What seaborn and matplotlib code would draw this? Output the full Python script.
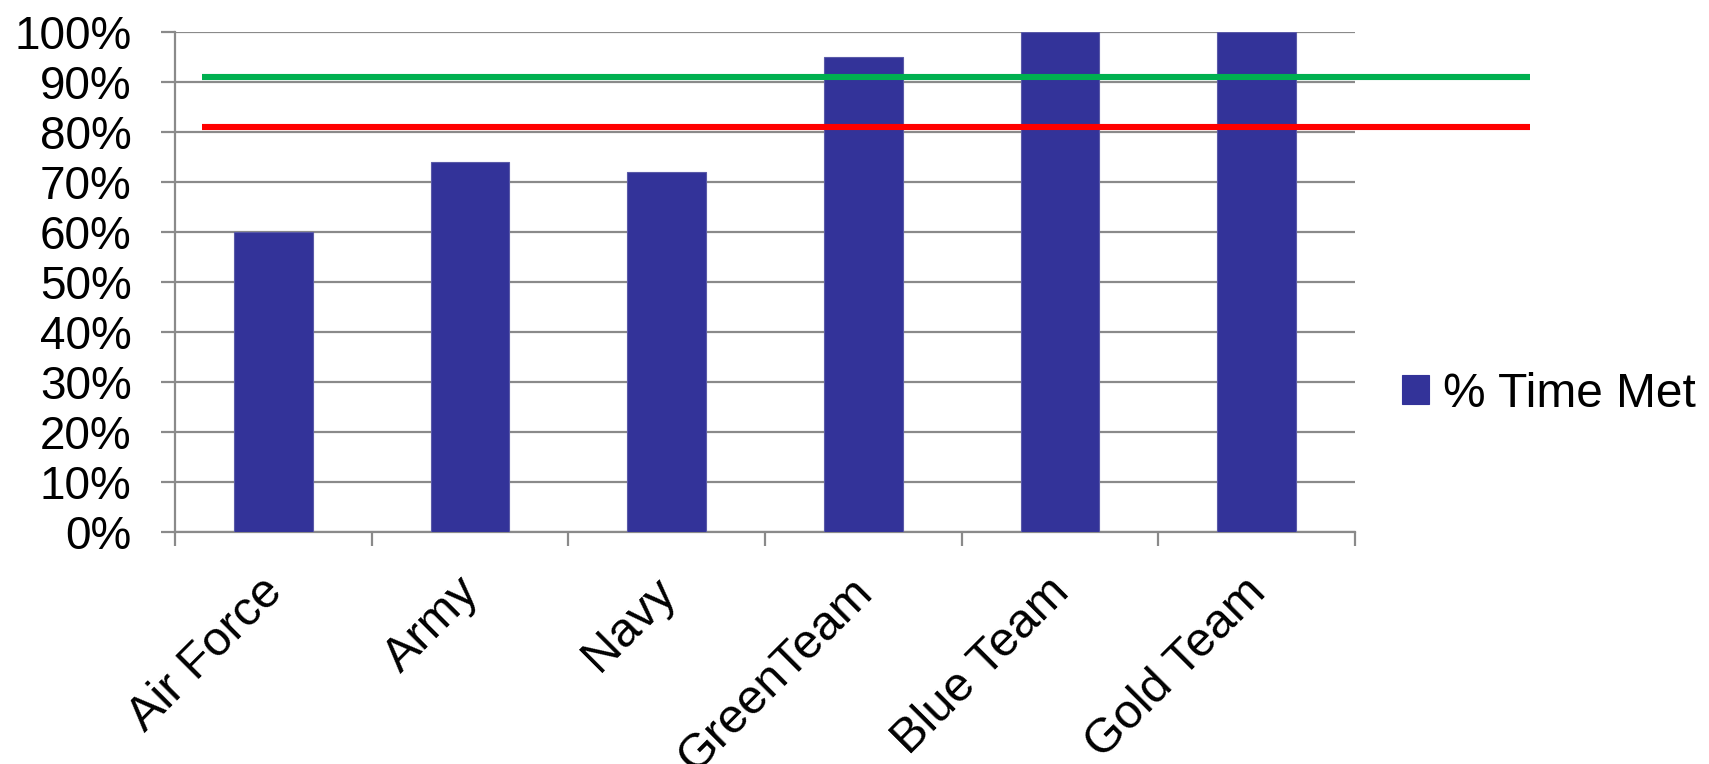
import matplotlib
matplotlib.use("Agg")
import matplotlib.pyplot as plt
import matplotlib.transforms as mtransforms
from matplotlib.ticker import FixedLocator, FuncFormatter, MultipleLocator
import seaborn as sns
import pandas as pd

# Data
categories = ["Air Force", "Army", "Navy", "GreenTeam", "Blue Team", "Gold Team"]
pct_time_met = [60, 74, 72, 95, 100, 100]
series_label = "% Time Met"
goal_line = 91       # green target
threshold_line = 81  # red threshold

sns.set_theme(style="white")
plt.rcParams["font.family"] = ["Liberation Sans", "DejaVu Sans"]

df = pd.DataFrame({"team": categories, "pct": pct_time_met})

fig = plt.figure(figsize=(17.09, 7.64), dpi=100)
ax = fig.add_axes([0.1024, 0.304, 0.6905, 0.6545])

bar_color = "#333399"
grid_color = "#8a8a8a"

sns.barplot(data=df, x="team", y="pct", color=bar_color, width=0.4,
            edgecolor="#5a5aa8", linewidth=0.8, saturation=1,
            label=series_label, ax=ax, zorder=3)
handles, labels = ax.get_legend_handles_labels()
if ax.get_legend() is not None:
    ax.get_legend().remove()

ax.set_ylim(0, 100)
ax.set_xlim(-0.5, len(categories) - 0.5)
ax.yaxis.set_major_locator(MultipleLocator(10))
ax.yaxis.set_major_formatter(FuncFormatter(lambda v, _: f"{v:.0f}%"))
ax.set_xlabel("")
ax.set_ylabel("")

# Horizontal gridlines
ax.grid(axis="y", color=grid_color, linewidth=1.6, zorder=0)
ax.grid(axis="x", visible=False)
ax.set_axisbelow(True)

for side in ["top", "right"]:
    ax.spines[side].set_visible(False)
for side in ["left", "bottom"]:
    ax.spines[side].set_color(grid_color)
    ax.spines[side].set_linewidth(1.6)

ax.tick_params(axis="y", which="major", direction="out", length=10.3,
               width=1.6, color=grid_color, pad=21, labelsize=33,
               labelcolor="black", left=True)

# Category-boundary tick marks on the x axis
ax.xaxis.set_minor_locator(FixedLocator([i - 0.5 for i in range(len(categories) + 1)]))
ax.tick_params(axis="x", which="minor", direction="out", length=10.3,
               width=1.6, color=grid_color, bottom=True)
ax.tick_params(axis="x", which="major", length=0, pad=27, labelsize=35,
               labelcolor="black")
offset = mtransforms.ScaledTranslation(18 / 100, 0, fig.dpi_scale_trans)
for lbl in ax.get_xticklabels():
    lbl.set_rotation(45)
    lbl.set_ha("right")
    lbl.set_transform(lbl.get_transform() + offset)

# Target lines spanning beyond the plot area
blend = ax.get_yaxis_transform()
ax.plot([0.0229, 1.148], [goal_line, goal_line], color="#00B050", linewidth=4.4,
        transform=blend, clip_on=False, zorder=5, solid_capstyle="butt")
ax.plot([0.0229, 1.148], [threshold_line, threshold_line], color="#FF0000",
        linewidth=4.4, transform=blend, clip_on=False, zorder=5,
        solid_capstyle="butt")

# Legend at right
leg = fig.legend(handles[:1], labels[:1], loc="center left",
                 bbox_to_anchor=(0.8205, 0.484), frameon=False, fontsize=34.5,
                 handlelength=0.55, handleheight=0.55, handletextpad=0.3,
                 borderpad=0, borderaxespad=0, labelcolor="black")
for h in leg.legend_handles:
    h.set_edgecolor(bar_color)

fig.savefig("out.png", dpi=100, facecolor="white")
